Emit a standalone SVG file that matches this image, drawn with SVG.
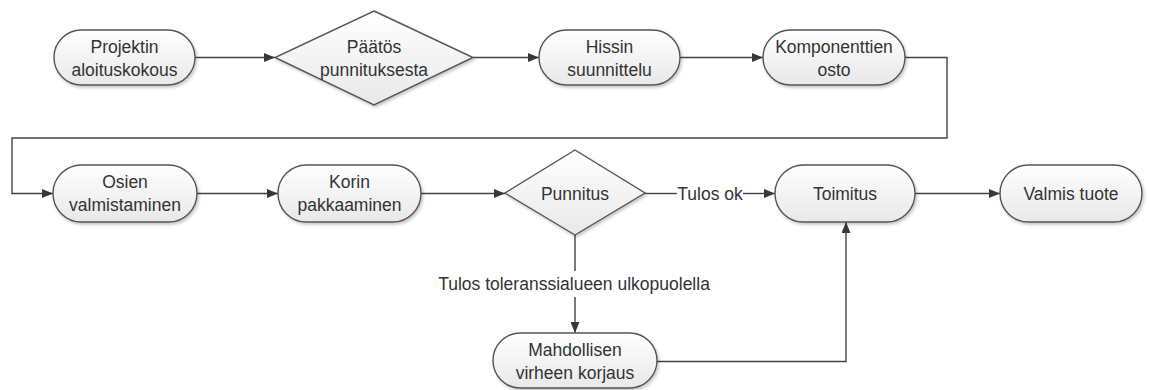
<svg xmlns="http://www.w3.org/2000/svg" width="1149" height="390" viewBox="0 0 1149 390">
  <style>
    .box { fill: url(#boxFill); stroke: #555; stroke-width: 1.4; filter: url(#shadow); }
    .lbl { font-family: "Liberation Sans", Arial, sans-serif; font-size: 17.5px; fill: #333; text-anchor: middle; }
    .wire { fill: none; stroke: #444; stroke-width: 1.4; }
  </style>
  <defs>
    <linearGradient id="boxFill" x1="0" y1="0" x2="0" y2="1">
      <stop offset="0" stop-color="#ffffff"/>
      <stop offset="1" stop-color="#e8e8e8"/>
    </linearGradient>
    <filter id="shadow" x="-10%" y="-10%" width="125%" height="135%">
      <feDropShadow dx="1.5" dy="2" stdDeviation="1.5" flood-color="#000" flood-opacity="0.22"/>
    </filter>
    <marker id="arrow" viewBox="0 0 11 9" refX="11" refY="4.5" markerWidth="11" markerHeight="9" markerUnits="userSpaceOnUse" orient="auto">
      <path d="M0,0 L11,4.5 L0,9 Z" fill="#383838"/>
    </marker>
  </defs>

  <rect width="1149" height="390" fill="#ffffff"/>

  <!-- connectors -->
  <g id="connectors" class="wire">
    <path d="M195,57.5 H275" marker-end="url(#arrow)"/>
    <path d="M473,57.5 H539" marker-end="url(#arrow)"/>
    <path d="M680,57.5 H763" marker-end="url(#arrow)"/>
    <path d="M905,57.5 H947 V138 H12 V193.5 H53" marker-end="url(#arrow)"/>
    <path d="M197,193.5 H278" marker-end="url(#arrow)"/>
    <path d="M421,193.5 H505" marker-end="url(#arrow)"/>
    <path d="M645,193.5 H677"/>
    <path d="M743,193.5 H775" marker-end="url(#arrow)"/>
    <path d="M915,193.5 H1000" marker-end="url(#arrow)"/>
    <path d="M575,235 V271"/>
    <path d="M575,297 V333" marker-end="url(#arrow)"/>
    <path d="M657,361.5 H846 V222" marker-end="url(#arrow)"/>
    <text class="lbl" x="710" y="199.5" stroke="none">Tulos ok</text>
    <text class="lbl" x="574" y="290" stroke="none">Tulos toleranssialueen ulkopuolella</text>
  </g>

  <!-- nodes -->
  <g id="n-projektin">
    <rect class="box" x="54" y="30" width="141" height="55" rx="27.5"/>
    <text class="lbl" x="124.5" y="53">Projektin</text>
    <text class="lbl" x="124.5" y="76">aloituskokous</text>
  </g>
  <g id="n-paatos">
    <polygon class="box" points="374,11 473,57.5 374,105 275,57.5"/>
    <text class="lbl" x="374" y="53">Päätös</text>
    <text class="lbl" x="374" y="76">punnituksesta</text>
  </g>
  <g id="n-hissin">
    <rect class="box" x="539" y="30" width="141" height="55" rx="27.5"/>
    <text class="lbl" x="609.5" y="53">Hissin</text>
    <text class="lbl" x="609.5" y="76">suunnittelu</text>
  </g>
  <g id="n-komponentit">
    <rect class="box" x="763" y="30" width="142" height="55" rx="27.5"/>
    <text class="lbl" x="834" y="53">Komponenttien</text>
    <text class="lbl" x="834" y="76">osto</text>
  </g>
  <g id="n-osien">
    <rect class="box" x="53" y="165" width="144" height="57" rx="28.5"/>
    <text class="lbl" x="125" y="188">Osien</text>
    <text class="lbl" x="125" y="211">valmistaminen</text>
  </g>
  <g id="n-korin">
    <rect class="box" x="278" y="165" width="143" height="57" rx="28.5"/>
    <text class="lbl" x="349.5" y="188">Korin</text>
    <text class="lbl" x="349.5" y="211">pakkaaminen</text>
  </g>
  <g id="n-punnitus">
    <polygon class="box" points="575,150 645,193 575,235 505,193"/>
    <text class="lbl" x="575" y="199.5">Punnitus</text>
  </g>
  <g id="n-toimitus">
    <rect class="box" x="775" y="165" width="140" height="57" rx="28.5"/>
    <text class="lbl" x="845" y="199.5">Toimitus</text>
  </g>
  <g id="n-valmis">
    <rect class="box" x="1000" y="165" width="142" height="57" rx="28.5"/>
    <text class="lbl" x="1071" y="199.5">Valmis tuote</text>
  </g>
  <g id="n-korjaus">
    <rect class="box" x="493" y="333" width="164" height="55" rx="27.5"/>
    <text class="lbl" x="575" y="356">Mahdollisen</text>
    <text class="lbl" x="575" y="379">virheen korjaus</text>
  </g>
</svg>
